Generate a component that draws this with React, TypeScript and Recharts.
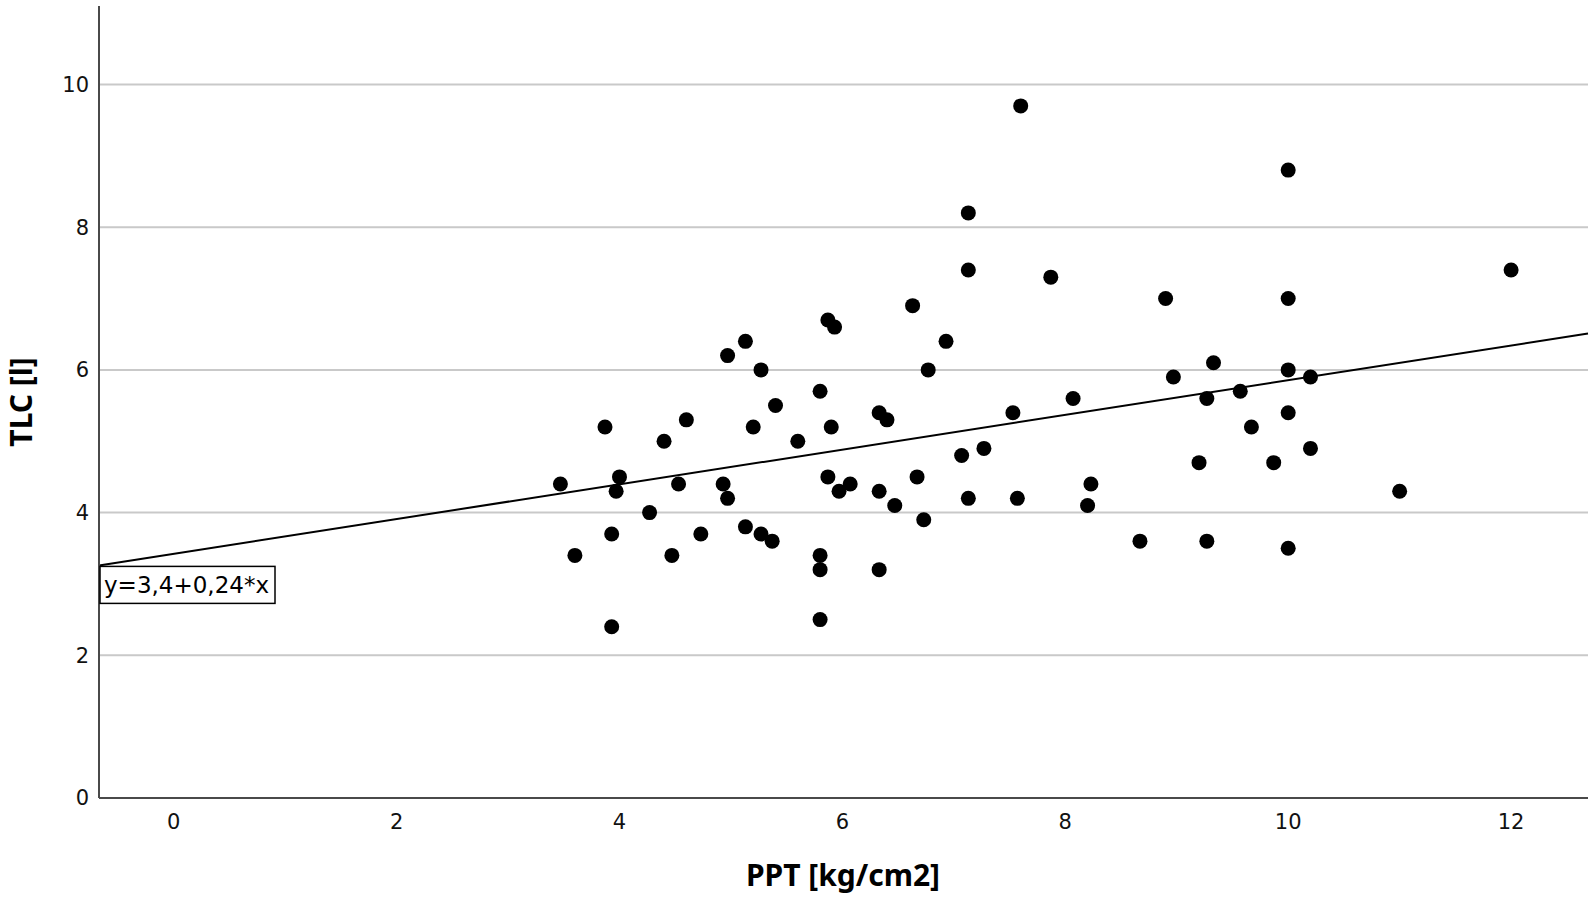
import React from 'react';
import {
  ScatterChart,
  Scatter,
  XAxis,
  YAxis,
  CartesianGrid,
  ReferenceLine,
  ReferenceDot,
} from 'recharts';

// PPT [kg/cm2] per patient
const ppt = [
  3.47, 3.6, 3.87, 3.93, 3.93, 3.97, 4.0, 4.27, 4.4, 4.47,
  4.53, 4.6, 4.73, 4.93, 4.97, 4.97, 5.13, 5.13, 5.2, 5.27,
  5.27, 5.37, 5.4, 5.6, 5.8, 5.8, 5.8, 5.8, 5.87, 5.87,
  5.9, 5.93, 5.97, 6.07, 6.33, 6.33, 6.33, 6.4, 6.47, 6.63,
  6.67, 6.73, 6.77, 6.93, 7.07, 7.13, 7.13, 7.13, 7.27, 7.53,
  7.57, 7.6, 7.87, 8.07, 8.2, 8.23, 8.67, 8.9, 8.97, 9.2,
  9.27, 9.27, 9.33, 9.57, 9.67, 9.87, 10, 10, 10, 10,
  10, 10.2, 10.2, 11, 12,
];

// TLC [l] per patient
const tlc = [
  4.4, 3.4, 5.2, 3.7, 2.4, 4.3, 4.5, 4.0, 5.0, 3.4,
  4.4, 5.3, 3.7, 4.4, 6.2, 4.2, 6.4, 3.8, 5.2, 6.0,
  3.7, 3.6, 5.5, 5.0, 5.7, 3.4, 3.2, 2.5, 6.7, 4.5,
  5.2, 6.6, 4.3, 4.4, 5.4, 4.3, 3.2, 5.3, 4.1, 6.9,
  4.5, 3.9, 6.0, 6.4, 4.8, 8.2, 7.4, 4.2, 4.9, 5.4,
  4.2, 9.7, 7.3, 5.6, 4.1, 4.4, 3.6, 7.0, 5.9, 4.7,
  5.6, 3.6, 6.1, 5.7, 5.2, 4.7, 8.8, 7.0, 6.0, 5.4,
  3.5, 5.9, 4.9, 4.3, 7.4,
];

const xTicks = [0, 2, 4, 6, 8, 10, 12];
const yTicks = [0, 2, 4, 6, 8, 10];
const xDomain = [-0.67, 12.69];
const yDomain = [0, 11.1];

// fit line end points (y=3,4+0,24*x) at the edges of the plot
const fitLine = [
  { x: -0.67, y: 3.26 },
  { x: 12.69, y: 6.51 },
];
const fitLabel = 'y=3,4+0,24*x';

const points = ppt.map((x, i) => ({ x, y: tlc[i] }));

const tickStyle = { fontFamily: 'DejaVu Sans', fontSize: 21, fill: '#111' };

const Dot = (props: any) => <circle cx={props.cx} cy={props.cy} r={7.5} fill="#000" />;

const FitBox = (props: any) => {
  const { cx, cy } = props;
  return (
    <g>
      <rect x={cx + 1} y={cy + 1} width={175} height={37} fill="#fff" stroke="#000" strokeWidth={1.5} />
      <text x={cx + 5} y={cy + 28} fontFamily="DejaVu Sans" fontSize={23} fill="#000">
        {fitLabel}
      </text>
    </g>
  );
};

export default function App() {
  return (
    <div style={{ position: 'fixed', left: 0, top: 0, background: '#fff' }}>
      <ScatterChart width={1595} height={899} margin={{ top: 6, right: 7, left: 29, bottom: 61 }}>
        <CartesianGrid vertical={false} horizontalValues={yTicks} stroke="#c9c9c9" strokeWidth={2} />
        <XAxis
          type="number"
          dataKey="x"
          domain={xDomain}
          ticks={xTicks}
          allowDataOverflow
          height={40}
          tickLine={false}
          tickSize={0}
          tickMargin={16}
          axisLine={{ stroke: '#4a4a4a', strokeWidth: 2 }}
          tick={tickStyle}
          label={(p: any) => (
            <text
              x={843}
              y={886}
              textAnchor="middle"
              fontFamily="Noto Sans"
              fontWeight="bold"
              fontSize={30}
              fill="#000"
            >
              PPT [kg/cm2]
            </text>
          )}
        />
        <YAxis
          type="number"
          dataKey="y"
          domain={yDomain}
          ticks={yTicks}
          allowDataOverflow
          width={70}
          tickLine={false}
          tickSize={0}
          tickMargin={10}
          axisLine={{ stroke: '#4a4a4a', strokeWidth: 2 }}
          tick={tickStyle}
          label={(p: any) => (
            <text
              x={32}
              y={402}
              textAnchor="middle"
              transform="rotate(-90, 32, 402)"
              fontFamily="Noto Sans"
              fontWeight="bold"
              fontSize={30}
              fill="#000"
            >
              TLC [l]
            </text>
          )}
        />
        <ReferenceLine segment={fitLine} stroke="#000" strokeWidth={2} ifOverflow="visible" />
        <Scatter data={points} shape={Dot} isAnimationActive={false} />
        <ReferenceDot x={fitLine[0].x} y={fitLine[0].y} r={0} shape={FitBox} ifOverflow="visible" />
      </ScatterChart>
    </div>
  );
}
